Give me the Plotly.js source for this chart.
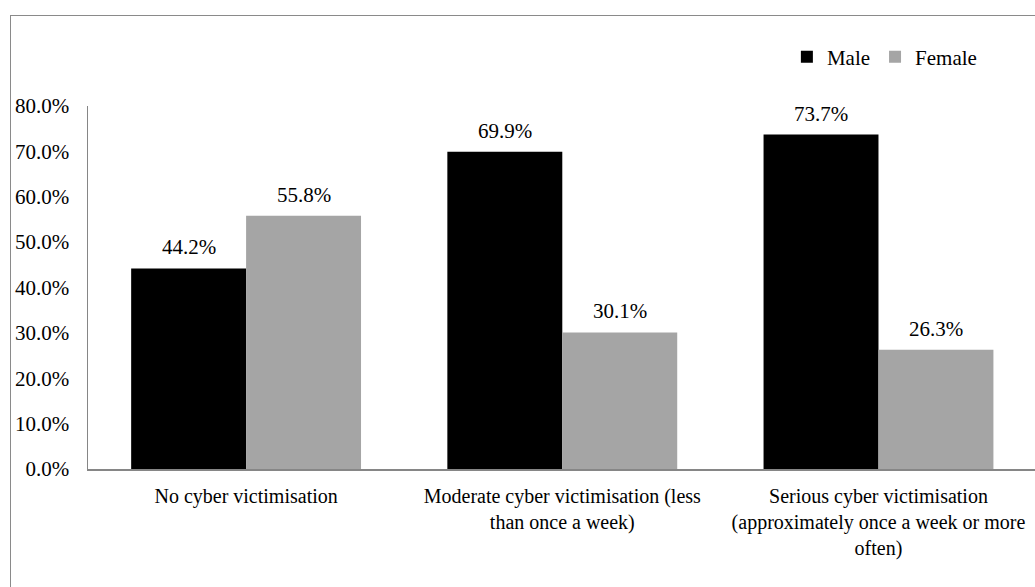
<!DOCTYPE html>
<html>
<head>
<meta charset="utf-8">
<script src="https://cdn.plot.ly/plotly-3.0.1.min.js"></script>
<style>
html,body{margin:0;padding:0;background:#fff;overflow:hidden;}
#wrap{position:relative;width:1035px;height:587px;overflow:hidden;}
#chart{position:absolute;left:0;top:0;width:1035px;height:587px;}
#frame{position:absolute;left:10px;top:15px;width:1060px;height:620px;border:1.5px solid #8a8a8a;pointer-events:none;box-sizing:border-box;}
</style>
</head>
<body>
<div id="wrap"><div id="chart"></div><div id="frame"></div></div>
<script>
const categories = [
  "No cyber victimisation",
  "Moderate cyber victimisation (less<br>than once a week)",
  "Serious cyber victimisation<br>(approximately once a week or more<br>often)"
];
const seriesNames = ["Male", "Female"];
const male = [44.2, 69.9, 73.7];
const female = [55.8, 30.1, 26.3];
const colors = ["#000000", "#a5a5a5"];
const yTicks = [0, 10, 20, 30, 40, 50, 60, 70, 80];

const FONT = "Liberation Serif";
const BARGAP = 0.273;
const seriesVals = [male, female];

const traces = seriesVals.map((vals, i) => ({
  type: "bar",
  name: seriesNames[i],
  x: categories.map((c, k) => k),
  y: vals,
  marker: {color: colors[i], line: {width: 0}},
  hoverinfo: "skip"
}));

const half = (1 - BARGAP) / 4;
const annotations = [];
seriesVals.forEach((vals, i) => {
  vals.forEach((v, k) => {
    annotations.push({
      x: k + (i === 0 ? -half : half),
      y: v,
      xref: "x", yref: "y",
      text: v.toFixed(1) + "%",
      showarrow: false,
      yanchor: "bottom",
      yshift: 7,
      font: {family: FONT, size: 21, color: "#000"}
    });
  });
});

const layout = {
  width: 1035,
  height: 587,
  margin: {l: 88, r: 0, t: 106, b: 118},
  paper_bgcolor: "rgba(0,0,0,0)",
  plot_bgcolor: "rgba(0,0,0,0)",
  font: {family: FONT, size: 21, color: "#000"},
  barmode: "group",
  bargap: BARGAP,
  bargroupgap: 0,
  showlegend: true,
  legend: {
    orientation: "h",
    x: 0.738, y: 1.135,
    xanchor: "left", yanchor: "middle",
    font: {family: FONT, size: 21, color: "#000"},
    itemwidth: 30,
    traceorder: "normal",
    bgcolor: "rgba(0,0,0,0)"
  },
  xaxis: {
    type: "linear",
    range: [-0.5, 2.495],
    tickmode: "array",
    tickvals: [0, 1, 2],
    ticktext: categories,
    showline: true,
    linecolor: "#868686",
    linewidth: 1.5,
    showgrid: false,
    zeroline: false,
    ticks: "",
    ticklabelstandoff: 8,
    tickfont: {family: FONT, size: 20, color: "#000"},
    fixedrange: true
  },
  yaxis: {
    range: [0, 80],
    tickmode: "array",
    tickvals: yTicks,
    ticktext: yTicks.map(t => t.toFixed(1) + "%"),
    showline: true,
    linecolor: "#868686",
    linewidth: 1.5,
    showgrid: false,
    zeroline: false,
    ticks: "",
    ticklabelstandoff: 13,
    tickfont: {family: FONT, size: 21, color: "#000"},
    fixedrange: true
  },
  annotations: annotations
};

Plotly.newPlot("chart", traces, layout, {displayModeBar: false, staticPlot: true});
</script>
</body>
</html>
